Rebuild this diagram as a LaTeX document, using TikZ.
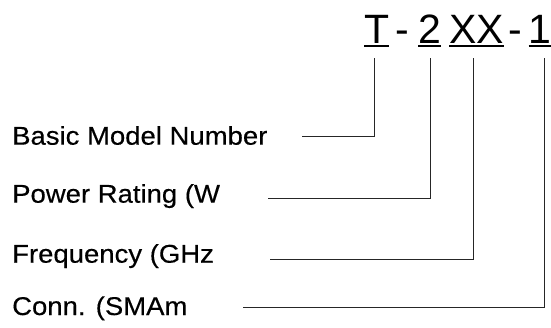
\documentclass[tikz,border=0pt]{standalone}
\usepackage{fontspec}
\setmainfont{Liberation Sans}
\newfontfamily\labelfont[FakeStretch=1.07, FakeBold=0.35]{Liberation Sans}
\tikzset{
  codechar/.style={anchor=base west, inner sep=0pt, font=\fontsize{41}{41}\selectfont},
  leadlabel/.style={anchor=base west, inner sep=0pt, font=\labelfont\fontsize{25.7}{30}\selectfont},
  leader/.style={line width=1pt, draw=black!85},
  uline/.style={line width=1.3pt}
}
\begin{document}
\begin{tikzpicture}[x=1pt, y=-1pt]
\useasboundingbox (0,0) rectangle (551,327);
% model code
\node [codechar] (cT) at (364,43) {T};
\node [codechar] (dash1) at (395,43) {-};
\node [codechar] (c2) at (418,43) {2};
\node [codechar] (cXX) at (449,43) {XX};
\node [codechar] (dash2) at (508,43) {-};
\node [codechar] (c1) at (528.5,43) {1};
\foreach \c in {cT, c2, cXX, c1}
  \draw [uline] ([yshift=-3pt]\c.base west) -- ([yshift=-3pt]\c.base east);
% labels
\node [leadlabel] (lbasic) at (12,144.7) {Basic Model Number};
\node [leadlabel] (lpower) at (12,202.7) {Power Rating (W};
\node [leadlabel] (lfreq) at (12,262.7) {Frequency (GHz};
\node [leadlabel] (lconn) at (12,315) {Conn. (SMAm};
% free ends of the leaders
\coordinate (fbasic) at (302,136);
\coordinate (fpower) at (268,198);
\coordinate (ffreq) at (270,259);
\coordinate (fconn) at (243,307);
\draw [leader] (fbasic) -| ([xshift=-2.5pt,yshift=-15pt]cT.base);
\draw [leader] (fpower) -| ([xshift=0.5pt,yshift=-15pt]c2.base);
\draw [leader] (ffreq) -| ([xshift=-3pt,yshift=-15pt]cXX.base);
\draw [leader] (fconn) -| ([xshift=4pt,yshift=-15pt]c1.base);
\end{tikzpicture}
\end{document}
